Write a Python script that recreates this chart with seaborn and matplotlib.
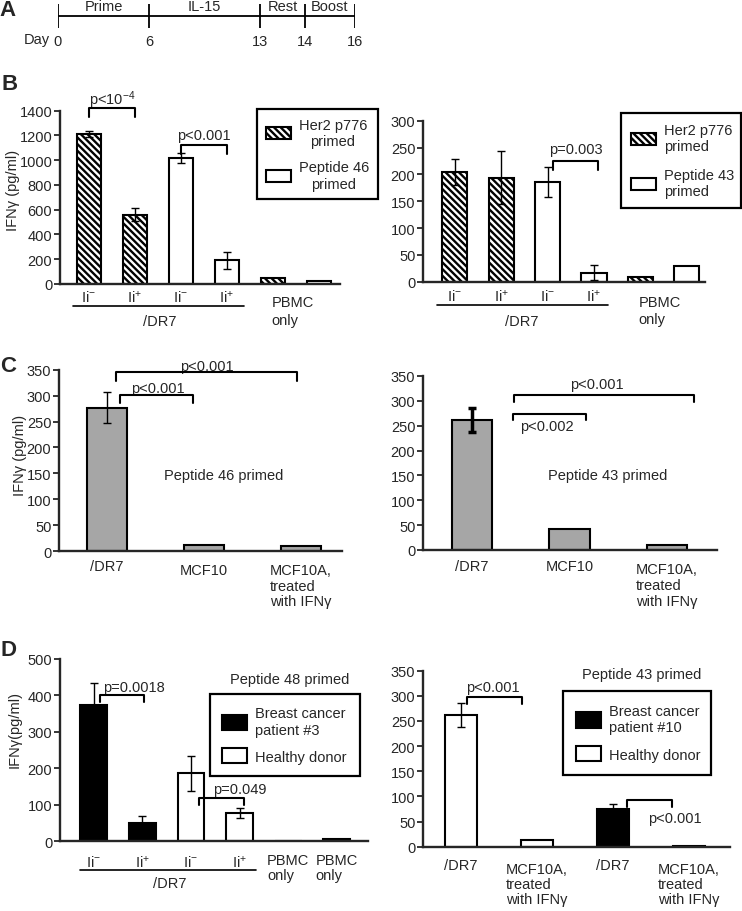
import numpy as np
import pandas as pd
import matplotlib
matplotlib.use("Agg")
import matplotlib.pyplot as plt
import seaborn as sns
from matplotlib.patches import Patch
from matplotlib.transforms import offset_copy

# ---- data ----
# A: protocol timeline
days = [0, 6, 13, 14, 16]
phases = ["Prime", "IL-15", "Rest", "Boost"]
timeline_pos = [0, 91, 202, 247, 297]  # drawn spacing of the schematic (not to scale)

# B: Her2 p776 vs peptide primed, Ii-/Ii+ targets and PBMC only
b_groups = ["her2", "her2", "pep", "pep", "her2", "pep"]
b_left_values = [1213, 560, 1015, 190, 50, 25]
b_left_err = [25, 50, 40, 65, 0, 0]
b_right_values = [205, 194, 186, 17, 9, 30]
b_right_err = [24, 49, 28, 14, 0, 0]
ii_labels = [r"$\mathrm{Ii}^{-}$", r"$\mathrm{Ii}^{+}$", r"$\mathrm{Ii}^{-}$", r"$\mathrm{Ii}^{+}$"]

# C: /DR7 vs MCF10 targets
c_labels = ["/DR7", "MCF10", "MCF10A,\ntreated\nwith IFNγ"]
c_groups = ["grey", "grey", "grey"]
c_left_values = [277, 12, 10]
c_left_err = [30, 0, 0]
c_right_values = [262, 42, 10]
c_right_err = [24, 0, 0]

# D: breast cancer patients vs healthy donor
d_left_groups = ["patient", "patient", "donor", "donor", "patient", "donor"]
d_left_values = [375, 50, 186, 78, 0, 6]
d_left_err = [59, 19, 47, 13, 0, 0]
d_right_labels = ["/DR7", "MCF10A,\ntreated\nwith IFNγ", "/DR7", "MCF10A,\ntreated\nwith IFNγ"]
d_right_groups = ["donor", "donor", "patient", "patient"]
d_right_values = [262, 13, 75, 1]
d_right_err = [24, 0, 10, 0]

W, H = 742, 912
HATCH = "\\\\\\\\\\"
GREY = "#a6a6a6"

sns.set_style("ticks")
plt.rcParams["font.family"] = ["Liberation Sans", "DejaVu Sans"]
plt.rcParams["mathtext.fontset"] = "custom"
plt.rcParams["mathtext.rm"] = "Liberation Sans"
plt.rcParams["mathtext.it"] = "Liberation Sans:italic"
plt.rcParams["mathtext.bf"] = "Liberation Sans:bold"
plt.rcParams["hatch.linewidth"] = 1.7
plt.rcParams["hatch.color"] = "black"
FS = 10.5

fig = plt.figure(figsize=(W / 100, H / 100), dpi=100)


def box(l, t, r, b):
    return [l / W, 1 - b / H, (r - l) / W, (b - t) / H]


def ftext(x, y, s, **kw):
    fig.text(x / W, 1 - y / H, s, ha="center", va="center", **kw)


def draw_bars(ax, values, errs, groups, colors, width, hatched=(), err_lw=1.0):
    df = pd.DataFrame({"bar": [f"b{i}" for i in range(len(values))],
                       "ifng": values, "group": groups})
    levels = list(dict.fromkeys(groups))
    sns.barplot(data=df, x="bar", y="ifng", hue="group", hue_order=levels,
                palette=colors, dodge=False, width=width, edgecolor="black",
                linewidth=1.5, errorbar=None, legend=False, ax=ax)
    for cont, level in zip(ax.containers, levels):
        if level in hatched:
            for p in cont:
                p.set_hatch(HATCH)
    pos = [i for i, e in enumerate(errs) if e > 0]
    ax.errorbar(pos, [values[i] for i in pos], yerr=[errs[i] for i in pos],
                fmt="none", ecolor="black", elinewidth=err_lw, capsize=3,
                capthick=err_lw, zorder=5)


def style(ax, xlim, ymax, step):
    ax.set_xlim(*xlim)
    ax.set_ylim(0, ymax)
    ax.set_yticks(np.arange(0, ymax + 1, step))
    ax.set_xticks([])
    ax.set_xlabel("")
    ax.set_ylabel("")
    sns.despine(ax=ax)
    for s in ["left", "bottom"]:
        ax.spines[s].set_linewidth(1.7)
    ax.tick_params(axis="y", labelsize=FS, length=4, width=1.3, pad=1.5)


def below(ax, x, dy, s, va="center", ls=1.2):
    tr = offset_copy(ax.get_xaxis_transform(), fig=fig, y=-dy, units="dots")
    ax.text(x, 0, s, transform=tr, ha="center", va=va, ma="left",
            fontsize=FS, linespacing=ls, clip_on=False)


def group_line(ax, x0, x1, dy):
    tr = offset_copy(ax.get_xaxis_transform(), fig=fig, y=-dy, units="dots")
    ax.plot([x0, x1], [0, 0], transform=tr, color="black", lw=1.2, clip_on=False)


def bracket(ax, x0, x1, y, leg, text, tx, ty):
    ax.plot([x0, x0, x1, x1], [y - leg, y, y, y - leg], color="black",
            lw=1.5, clip_on=False, zorder=6)
    ax.text(tx, ty, text, ha="center", va="center", fontsize=FS, clip_on=False)


def legend(ax, handles, rect, center=False, hh=1.0, lsp=0.8, pad=0.6):
    l, t, r, b = rect
    leg = ax.legend(handles=handles, loc="upper left",
                    bbox_to_anchor=(l / W, 1 - b / H, (r - l) / W, (b - t) / H),
                    bbox_transform=fig.transFigure, mode="expand", fontsize=FS,
                    frameon=True, fancybox=False, framealpha=1, edgecolor="black",
                    handlelength=1.7, handleheight=hh, handletextpad=0.55,
                    borderpad=pad, labelspacing=lsp, borderaxespad=0)
    leg.get_frame().set_linewidth(1.6)
    if center:
        for t in leg.get_texts():
            t.set_multialignment("center")
    return leg


# ---- A: timeline ----
axA = fig.add_axes(box(58, 5, 355, 29))
axA.set_xscale("function", functions=(lambda d: np.interp(d, days, timeline_pos),
                                      lambda p: np.interp(p, timeline_pos, days)))
axA.set_xlim(days[0], days[-1])
axA.set_ylim(-1, 1)
axA.axis("off")
axA.plot([days[0], days[-1]], [0, 0], color="black", lw=1.3)
axA.vlines(days, -1, 1, color="black", lw=1.3)
up = offset_copy(axA.transData, fig=fig, y=10, units="dots")
dn = offset_copy(axA.transData, fig=fig, y=-25, units="dots")
for i, ph in enumerate(phases):
    axA.text((days[i] + days[i + 1]) / 2, 0, ph, transform=up, ha="center",
             va="center", fontsize=FS)
for d in days:
    axA.text(d, 0, str(d), transform=dn, ha="center", va="center", fontsize=FS)
ftext(37, 40, "Day", fontsize=FS)

# ---- B left ----
axBL = fig.add_axes(box(60, 111.7, 340, 285))
draw_bars(axBL, b_left_values, b_left_err, b_groups, {"her2": "white", "pep": "white"},
          0.51, hatched={"her2"})
style(axBL, (-0.63, 5.46), 1400, 200)
for i, s in enumerate(ii_labels):
    below(axBL, i, 13, s)
below(axBL, 4.43, 27, "PBMC\nonly", ls=1.3)
group_line(axBL, -0.35, 3.37, 22)
below(axBL, 1.55, 37, "/DR7")
bracket(axBL, 0, 1, 1420, 70, r"p<$10^{-4}$", 0.5, 1490)
bracket(axBL, 2, 3, 1123, 73, "p<0.001", 2.5, 1203)
legend(axBL, [Patch(facecolor="white", edgecolor="black", hatch=HATCH, lw=1.5,
                    label="Her2 p776\nprimed"),
              Patch(facecolor="white", edgecolor="black", lw=1.5,
                    label="Peptide 46\nprimed")],
       (257, 110, 378, 202), center=True, hh=0.9, lsp=0.85, pad=0.6)

# ---- B right ----
axBR = fig.add_axes(box(423, 121.7, 705, 282.7))
draw_bars(axBR, b_right_values, b_right_err, b_groups, {"her2": "white", "pep": "white"},
          0.54, hatched={"her2"})
style(axBR, (-0.68, 5.39), 300, 50)
for i, s in enumerate(ii_labels):
    below(axBR, i, 14, s)
below(axBR, 4.42, 29, "PBMC\nonly", ls=1.3)
group_line(axBR, -0.38, 3.3, 23)
below(axBR, 1.45, 39, "/DR7")
bracket(axBR, 2.12, 3.09, 224, 15, "p=0.003", 2.6, 247)
legend(axBR, [Patch(facecolor="white", edgecolor="black", hatch=HATCH, lw=1.5,
                    label="Her2 p776\nprimed"),
              Patch(facecolor="white", edgecolor="black", lw=1.5,
                    label="Peptide 43\nprimed")],
       (621, 114, 741, 211), hh=0.9, lsp=1.0, pad=0.7)

# ---- C left ----
axCL = fig.add_axes(box(59, 370.7, 342, 552))
draw_bars(axCL, c_left_values, c_left_err, c_groups, {"grey": GREY}, 0.41)
style(axCL, (-0.49, 2.42), 350, 50)
for i, (s, dy) in enumerate(zip(c_labels, [8, 12, 12])):
    below(axCL, i, dy, s, va="top", ls=1.15)
bracket(axCL, 0.1, 1.96, 345, 16, "p<0.001", 1.03, 358)
bracket(axCL, 0.14, 0.89, 301, 15, "p<0.001", 0.53, 315)
axCL.text(1.2, 147, "Peptide 46 primed", ha="center", va="center", fontsize=FS)

# ---- C right ----
axCR = fig.add_axes(box(423, 377, 717, 551))
draw_bars(axCR, c_right_values, c_right_err, c_groups, {"grey": GREY}, 0.41, err_lw=2.5)
style(axCR, (-0.5, 2.51), 350, 50)
for i, (s, dy) in enumerate(zip(c_labels, [9.5, 9.5, 12.5])):
    below(axCR, i, dy, s, va="top", ls=1.15)
bracket(axCR, 0.43, 2.27, 311, 13, "p<0.001", 1.28, 333)
bracket(axCR, 0.42, 1.17, 274, 13, "p<0.002", 0.77, 249)
axCR.text(1.39, 150, "Peptide 43 primed", ha="center", va="center", fontsize=FS)

# ---- D left ----
axDL = fig.add_axes(box(60, 660, 368, 842.3))
draw_bars(axDL, d_left_values, d_left_err, d_left_groups,
          {"patient": "black", "donor": "white"}, 0.55)
style(axDL, (-0.69, 5.64), 500, 100)
for i, s in enumerate(ii_labels):
    below(axDL, i, 20, s)
below(axDL, 4, 12, "PBMC\nonly", va="top", ls=1.1)
below(axDL, 5, 12, "PBMC\nonly", va="top", ls=1.1)
group_line(axDL, -0.28, 3.34, 29)
below(axDL, 1.57, 42, "/DR7")
bracket(axDL, 0.13, 1.04, 401, 18, "p=0.0018", 0.83, 422)
bracket(axDL, 2.17, 3.09, 118, 18, "p=0.049", 3.01, 143)
axDL.text(4.03, 445, "Peptide 48 primed", ha="center", va="center", fontsize=FS)
legend(axDL, [Patch(facecolor="black", edgecolor="black", lw=1.5,
                    label="Breast cancer\npatient #3"),
              Patch(facecolor="white", edgecolor="black", lw=1.5,
                    label="Healthy donor")],
       (210, 695, 360, 777), hh=1.2, lsp=0.8, pad=0.85)

# ---- D right ----
axDR = fig.add_axes(box(423, 671.7, 730, 847.7))
draw_bars(axDR, d_right_values, d_right_err, d_right_groups,
          {"donor": "white", "patient": "black"}, 0.41)
style(axDR, (-0.5, 3.54), 350, 50)
for i, s in enumerate(d_right_labels):
    below(axDR, i, 11.5 if s == "/DR7" else 15, s, va="top", ls=1.1)
bracket(axDR, 0.08, 0.8, 298, 14, "p<0.001", 0.42, 317)
bracket(axDR, 2.18, 2.78, 93, 15, "p<0.001", 2.82, 58)
axDR.text(2.38, 343, "Peptide 43 primed", ha="center", va="center", fontsize=FS)
legend(axDR, [Patch(facecolor="black", edgecolor="black", lw=1.5,
                    label="Breast cancer\npatient #10"),
              Patch(facecolor="white", edgecolor="black", lw=1.5,
                    label="Healthy donor")],
       (563, 692, 711, 777), hh=1.25, lsp=0.8, pad=0.9)

# ---- panel letters and y labels ----
for letter, x, y in [("A", 7, 11), ("B", 10, 85), ("C", 8, 366), ("D", 8, 650)]:
    ftext(x, y, letter, fontsize=16, fontweight="bold")
ftext(13, 190, "IFNγ (pg/ml)", fontsize=FS, rotation=90)
ftext(20, 455, "IFNγ (pg/ml)", fontsize=FS, rotation=90)
ftext(15, 730, "IFNγ(pg/ml)", fontsize=FS, rotation=90)

fig.savefig("out.png", dpi=100)
